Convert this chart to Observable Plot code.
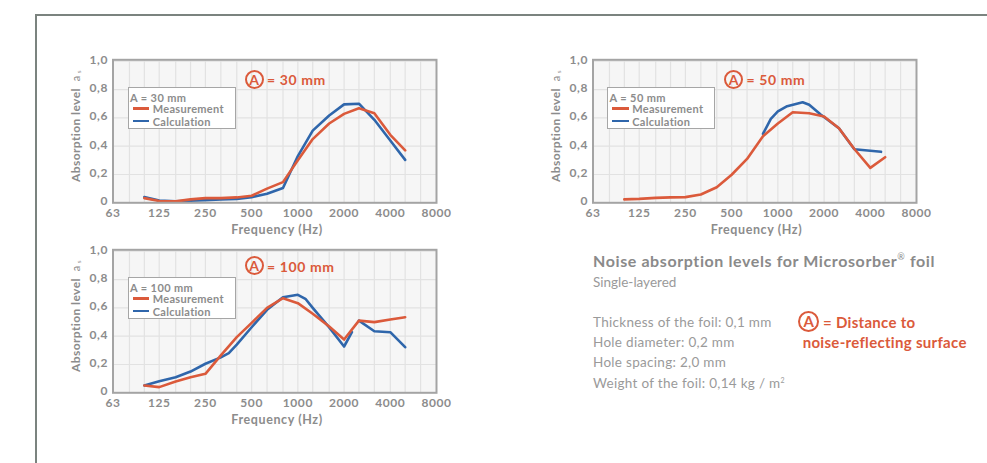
<!DOCTYPE html>
<html>
<head>
<meta charset="utf-8">
<script src="https://cdn.jsdelivr.net/npm/d3@7"></script>
<script src="https://cdn.jsdelivr.net/npm/@observablehq/plot@0.6"></script>
<style>
  html, body { margin: 0; padding: 0; background: #fff; }
  #page { position: relative; width: 987px; height: 463px; overflow: hidden; background: #fff; font-family: "Lato", "Open Sans", sans-serif; }
  .abs { position: absolute; white-space: nowrap; }
</style>
</head>
<body>
<div id="page"></div>
<script>
// ---------- data ----------
const thirdOctave = [100,125,160,200,250,315,400,500,630,800,1000,1250,1600,2000,2500,3150,4000,5000];

// A = 30 mm
const meas30 = [0.033,0.012,0.010,0.024,0.033,0.033,0.038,0.050,0.100,0.146,0.300,0.450,0.560,0.628,0.668,0.633,0.480,0.370];
const calc30 = [0.040,0.016,0.010,0.014,0.019,0.024,0.028,0.040,0.064,0.104,0.330,0.510,0.617,0.695,0.700,0.586,0.440,0.303];

// A = 50 mm
const meas50 = [0.024,0.028,0.035,0.038,0.040,0.059,0.110,0.198,0.310,0.470,0.560,0.640,0.632,0.610,0.527,0.380,0.247,0.322];
const calc50Freq = [800,900,1000,1150,1450,1600,1900,2500,3150,4000,4700];
const calc50 = [0.487,0.593,0.645,0.682,0.710,0.692,0.624,0.527,0.378,0.368,0.360];

// A = 100 mm
const meas100 = [0.052,0.040,0.080,0.110,0.134,0.264,0.393,0.494,0.600,0.668,0.633,0.558,0.468,0.376,0.510,0.499,0.518,0.534];
const calc100Freq = [100,125,160,200,250,315,355,400,500,630,800,1000,1120,1250,1600,2000,2250,2400,2500,3150,4000,5000];
const calc100 = [0.052,0.082,0.110,0.150,0.205,0.250,0.280,0.340,0.463,0.586,0.675,0.692,0.664,0.600,0.462,0.327,0.428,null,0.510,0.435,0.428,0.322];

// axes
const xTickValues = [62.5,125,250,500,1000,2000,4000,8000];
const xTickLabels = ["63","125","250","500","1000","2000","4000","8000"];
const xGridValues = [80,100,125,160,200,250,315,400,500,630,800,1000,1250,1600,2000,2500,3150,4000,5000,6300];
const yTickValues = [0,0.2,0.4,0.6,0.8,1.0];
const yTickLabels = ["0","0,2","0,4","0,6","0,8","1,0"];

const distances = ["30 mm","50 mm","100 mm"];
const seriesNames = ["Measurement","Calculation"];

// ---------- style ----------
const RED = "#db5a3b";
const BLUE = "#2f66ab";
const TXT = "#8c8c8c";

const xLabelMap = new Map(xTickValues.map((v,i)=>[v, xTickLabels[i]]));
const yLabelMap = new Map(yTickValues.map((v,i)=>[v, yTickLabels[i]]));

const page = document.getElementById("page");

function add(html, css) {
  const d = document.createElement("div");
  d.className = "abs";
  d.innerHTML = html;
  Object.assign(d.style, css);
  page.appendChild(d);
  return d;
}

// outer frame
add("", {left:"35px", top:"13.5px", width:"1000px", height:"500px", borderTop:"2.5px solid #7b837f", borderLeft:"2.5px solid #7b837f"});

const ML = 72.5, MT = 9.3, PW = 323.5, PH = 143;

const charts = [
  {left:40, top:50, dist:distances[0], meas:{f:thirdOctave, v:meas30}, calc:{f:thirdOctave, v:calc30}, annDy:19.7},
  {left:519.5, top:50, dist:distances[1], meas:{f:thirdOctave, v:meas50}, calc:{f:calc50Freq, v:calc50}, annDy:19.7},
  {left:40, top:240, dist:distances[2], meas:{f:thirdOctave, v:meas100}, calc:{f:calc100Freq, v:calc100}, annDy:16.4}
];

function toRows(s) { return s.f.map((f,i)=>({f, v:s.v[i]})); }

for (const c of charts) {
  const svg = Plot.plot({
    width: ML + PW + 30,
    height: MT + PH + 40,
    marginLeft: ML, marginTop: MT, marginRight: 30, marginBottom: 40,
    style: {background:"transparent", fontFamily:"Lato, 'Open Sans', sans-serif", fontSize:"12px", fontWeight:"bold", color:TXT, overflow:"visible", letterSpacing:"0.6px"},
    x: {type:"log", domain:[62.5,8000], axis:null},
    y: {domain:[0,1.01], axis:null},
    marks: [
      Plot.frame({fill:"#f6f6f6", stroke:null}),
      Plot.ruleX(xGridValues, {stroke:"#e2e2e2", strokeWidth:1.2}),
      Plot.ruleY(yTickValues.slice(1), {stroke:"#e2e2e2", strokeWidth:1.2}),
      Plot.line(toRows(c.calc), {x:"f", y:"v", stroke:BLUE, strokeWidth:2.6}),
      Plot.line(toRows(c.meas), {x:"f", y:"v", stroke:RED, strokeWidth:2.6}),
      Plot.frame({stroke:"#a4a4a4", strokeWidth:2}),
      Plot.axisY(yTickValues, {tickFormat:d=>yLabelMap.get(d), tickSize:0, tickPadding:5, dy:-1.5, label:null}),
      Plot.text(xTickValues, {x:d=>d, text:d=>xLabelMap.get(d), frameAnchor:"bottom", lineAnchor:"top", dy:6, fill:TXT})
    ]
  });
  svg.style.position = "absolute";
  svg.style.left = c.left + "px";
  svg.style.top = c.top + "px";
  page.appendChild(svg);

  const px = c.left + ML, py = c.top + MT;

  // y label
  add('<span style="font-weight:bold">Absorption level</span>&nbsp;&nbsp;<span style="font-weight:normal;font-size:11px">a</span><span style="font-weight:normal;font-size:6.5px;position:relative;top:1px"> s</span>',
      {left:(px-37.5)+"px", top:(py+67)+"px", transform:"translate(-50%,-50%) rotate(-90deg)", color:TXT, fontSize:"12px", letterSpacing:"0.4px"});
  // x label
  add("Frequency (Hz)", {left:(px+164.5)+"px", top:(py+169.5)+"px", transform:"translate(-50%,-50%)", color:TXT, fontSize:"12.5px", fontWeight:"bold", letterSpacing:"0.6px"});

  // legend box
  add("", {left:(px+15.2)+"px", top:(py+28)+"px", width:"106px", height:"40px", background:"#fff", border:"1.5px solid #a6a6a6"});
  add("A = " + c.dist, {left:(px+17.5)+"px", top:(py+37.4)+"px", transform:"translateY(-50%)", color:TXT, fontSize:"11px", fontWeight:"bold", letterSpacing:"0.4px"});
  const swCols = [RED, BLUE];
  seriesNames.forEach((n,i)=>{
    const cy = py + 49 + i*12.7;
    add("", {left:(px+20.2)+"px", top:(cy-1.4)+"px", width:"16.6px", height:"2.8px", background:swCols[i]});
    add(n, {left:(px+40.2)+"px", top:cy+"px", transform:"translateY(-50%)", color:TXT, fontSize:"11px", fontWeight:"bold", letterSpacing:"0.3px"});
  });

  // circled A annotation
  const ay = py + c.annDy;
  add("A", {left:(px+132)+"px", top:(ay-9.5)+"px", width:"19px", height:"19px", boxSizing:"border-box", border:"2px solid "+RED, borderRadius:"50%", color:RED, fontSize:"14px", fontWeight:"bold", textAlign:"center", lineHeight:"15px"});
  add("= " + c.dist, {left:(px+154.5)+"px", top:ay+"px", transform:"translateY(-50%)", color:RED, fontSize:"14px", fontWeight:"bold", letterSpacing:"0.6px"});
}

// right text block
const info = [
  "Thickness of the foil: 0,1 mm",
  "Hole diameter: 0,2 mm",
  "Hole spacing: 2,0 mm",
  'Weight of the foil: 0,14 kg / m<sup style="font-size:7px">2</sup>'
];
add('Noise absorption levels for Microsorber<sup style="font-size:9px;font-weight:normal">®</sup> foil', {left:"593px", top:"260px", transform:"translateY(-50%)", color:"#8a8a8a", fontSize:"16px", fontWeight:"bold", letterSpacing:"0.6px"});
add("Single-layered", {left:"593px", top:"281.7px", transform:"translateY(-50%)", color:"#9a9a9a", fontSize:"13.5px"});
info.forEach((t,i)=>{
  add(t, {left:"593px", top:(321.7 + i*20.3)+"px", transform:"translateY(-50%)", color:"#9a9a9a", fontSize:"13.5px", letterSpacing:"0.3px"});
});
add("A", {left:"798.3px", top:"311.2px", width:"21px", height:"21px", boxSizing:"border-box", border:"2px solid "+RED, borderRadius:"50%", color:RED, fontSize:"15px", fontWeight:"bold", textAlign:"center", lineHeight:"17px"});
add("= Distance to", {left:"823px", top:"321.7px", transform:"translateY(-50%)", color:RED, fontSize:"15px", fontWeight:"bold", letterSpacing:"0.3px"});
add("noise-reflecting surface", {left:"802.7px", top:"341.7px", transform:"translateY(-50%)", color:RED, fontSize:"15px", fontWeight:"bold", letterSpacing:"0.3px"});
</script>
</body>
</html>
